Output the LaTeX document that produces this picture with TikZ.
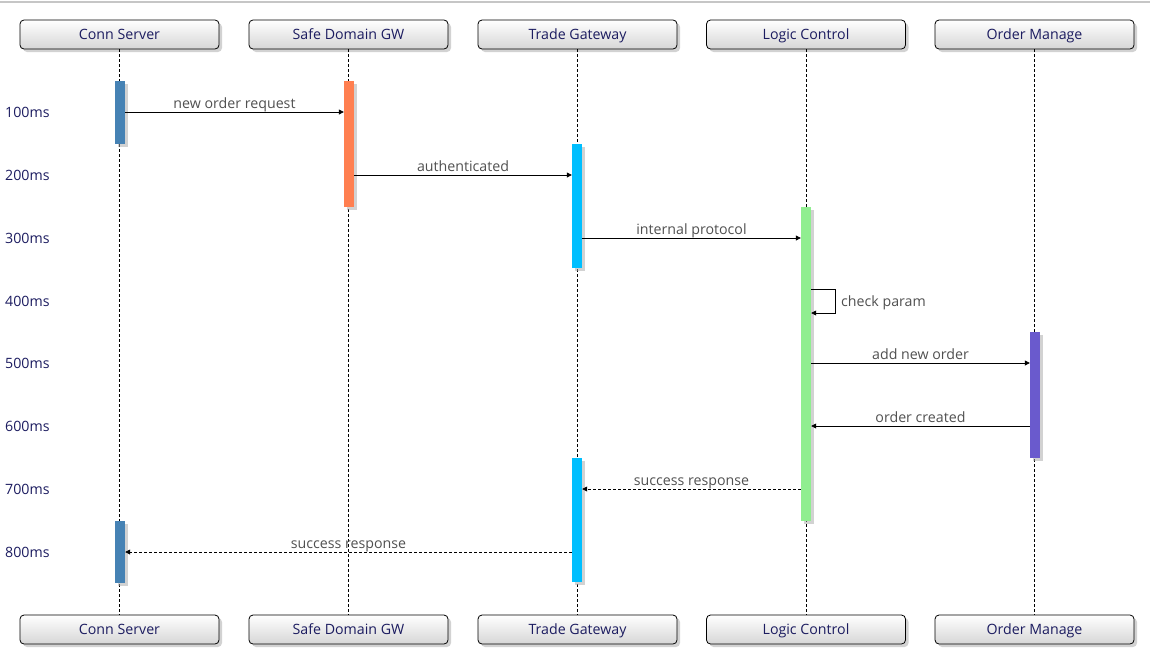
\documentclass[tikz,border=0pt]{standalone}
\usepackage{fontspec}
\setmainfont{Open Sans}
\usetikzlibrary{shadows,arrows.meta}
\definecolor{navy}{RGB}{28,28,96}
\definecolor{lblgray}{RGB}{80,80,80}
\definecolor{csbar}{RGB}{70,130,180}
\definecolor{sdbar}{RGB}{255,127,80}
\definecolor{tgbar}{RGB}{0,191,255}
\definecolor{lcbar}{RGB}{144,238,144}
\definecolor{ombar}{RGB}{106,90,205}
\begin{document}
\begin{tikzpicture}[x=1pt,y=-1pt,
  actor/.style={draw=black, line width=0.8pt, rounded corners=4pt,
    minimum width=199pt, minimum height=29pt, inner sep=0pt,
    text height=10.5pt, text depth=0pt,
    top color=white, bottom color=gray!32,
    drop shadow={shadow xshift=3pt, shadow yshift=-3pt, fill=gray!70, opacity=0.5},
    font=\fontsize{14.2}{16}\selectfont, text=navy},
  bar/.style={minimum width=10pt, inner sep=0pt,
    drop shadow={shadow xshift=3pt, shadow yshift=-3pt, fill=gray!70, opacity=0.5}},
  life/.style={black, line width=0.8pt, dash pattern=on 3pt off 2pt},
  msg/.style={black, line width=0.8pt, -{Triangle[length=5pt,width=5pt]}},
  reply/.style={msg, dash pattern=on 3pt off 2pt},
  lbl/.style={anchor=base, yshift=3.5pt, inner sep=0pt, text=lblgray, font=\fontsize{14.2}{16}\selectfont},
  tlbl/.style={anchor=west, inner sep=0pt, text=navy, font=\fontsize{14.2}{16}\selectfont}]
\useasboundingbox (0,0) rectangle (1150,662);
\draw[gray!45, line width=1.5pt] (0,2) -- (1150,2);
% actors top
\node[actor] (csT) at (119.5,34.5) {Conn Server};
\node[actor] (sdT) at (348.5,34.5) {Safe Domain GW};
\node[actor] (tgT) at (577.5,34.5) {Trade Gateway};
\node[actor] (lcT) at (806,34.5) {Logic Control};
\node[actor] (omT) at (1034.5,34.5) {Order Manage};
% actors bottom
\node[actor] (csB) at (119.5,629.5) {Conn Server};
\node[actor] (sdB) at (348.5,629.5) {Safe Domain GW};
\node[actor] (tgB) at (577.5,629.5) {Trade Gateway};
\node[actor] (lcB) at (806,629.5) {Logic Control};
\node[actor] (omB) at (1034.5,629.5) {Order Manage};
% lifelines
\draw[life] (csT.south) -- (csB.north);
\draw[life] (sdT.south) -- (sdB.north);
\draw[life] (tgT.south) -- (tgB.north);
\draw[life] (lcT.south) -- (lcB.north);
\draw[life] (omT.south) -- (omB.north);
% time labels
\node[tlbl] (t1) at (5,112.5) {100ms};
\node[tlbl] (t2) at (5,175.5) {200ms};
\node[tlbl] (t3) at (5,238.5) {300ms};
\node[tlbl] (t4) at (5,301.5) {400ms};
\node[tlbl] (t5) at (5,363.5) {500ms};
\node[tlbl] (t6) at (5,426.5) {600ms};
\node[tlbl] (t7) at (5,489.5) {700ms};
\node[tlbl] (t8) at (5,552.5) {800ms};
% activation bars
\node[bar, fill=csbar, minimum height=63pt] (cs1) at (120,112.5) {};
\node[bar, fill=sdbar, minimum height=126pt] (sd1) at (349,144) {};
\node[bar, fill=tgbar, minimum height=124pt] (tg1) at (577,206) {};
\node[bar, fill=lcbar, minimum height=314pt] (lc1) at (806,364) {};
\node[bar, fill=ombar, minimum height=126pt] (om1) at (1035,395) {};
\node[bar, fill=tgbar, minimum height=124pt] (tg2) at (577,520) {};
\node[bar, fill=csbar, minimum height=62pt] (cs2) at (120,552) {};
% messages
\draw[msg] (cs1.east |- 0,112) -- node[lbl] {new order request} (sd1.west |- 0,112);
\draw[msg] (sd1.east |- 0,175) -- node[lbl] {authenticated} (tg1.west |- 0,175);
\draw[msg] (tg1.east |- 0,238) -- node[lbl] {internal protocol} (lc1.west |- 0,238);
\draw[msg] (lc1.east |- 0,289) -- ++(24,0) |- (lc1.east |- 0,313);
\node[anchor=base west, inner sep=0pt, text=lblgray, font=\fontsize{14.2}{16}\selectfont] (cp) at (841,306) {check param};
\draw[msg] (lc1.east |- 0,363) -- node[lbl] {add new order} (om1.west |- 0,363);
\draw[msg] (om1.west |- 0,426) -- node[lbl] {order created} (lc1.east |- 0,426);
\draw[reply] (lc1.west |- 0,489) -- node[lbl] {success response} (tg2.east |- 0,489);
\draw[reply] (tg2.west |- 0,552) -- node[lbl] {success response} (cs2.east |- 0,552);
\end{tikzpicture}
\end{document}
